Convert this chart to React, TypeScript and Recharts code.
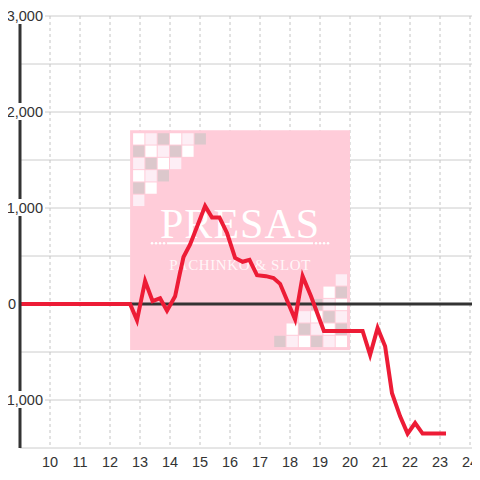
import React from 'react';
import { LineChart, Line, XAxis, YAxis, CartesianGrid, ReferenceArea, ReferenceLine } from 'recharts';

// hour of day vs. running balance
const hours = [
    9, 12.67, 12.9, 13.17, 13.42, 13.67, 13.9, 14.17, 14.33, 14.45, 14.67, 15.17, 15.4, 15.65, 15.9,
    16.17, 16.42, 16.65, 16.9, 17.2, 17.45, 17.67, 17.9, 18.17, 18.42, 18.7, 19.13, 20.42, 20.67,
    20.92, 21.17, 21.4, 21.67, 21.92, 22.17, 22.42, 23.2,
];
const balance = [
    0, 0, -170, 240, 30, 60, -70, 80, 320, 490, 620, 1020, 900, 900, 740,
    480, 440, 460, 300, 290, 270, 210, 40, -160, 290, 80, -280, -280, -530,
    -250, -440, -930, -1170, -1350, -1240, -1350, -1350,
];
const xTicks = [10, 11, 12, 13, 14, 15, 16, 17, 18, 19, 20, 21, 22, 23, 24];
const yTicks = [-1500, -1000, -500, 0, 500, 1000, 1500, 2000, 2500, 3000];

const data = hours.map((h, i) => ({ h: h, v: balance[i] }));

const FONT = '"Liberation Sans", Arial, sans-serif';
const SQ = ['#ffffff', '#fdeef5', '#dcc8cc'];

function Watermark(props) {
    const { x, y, width, height } = props;
    const cell = 12.3;
    const squares = [];
    for (let r = 0; r < 6; r++) {
        for (let c = 0; c < 6 - r; c++) {
            const col = SQ[(((c - r) % 3) + 3) % 3];
            squares.push(
                <rect key={'a' + r + c} x={x + 3 + c * cell} y={y + 3 + r * cell} width={cell - 1} height={cell - 1} fill={col} />
            );
            squares.push(
                <rect key={'b' + r + c} x={x + width - 3 - (c + 1) * cell + 1} y={y + height - 3 - (r + 1) * cell + 1} width={cell - 1} height={cell - 1} fill={col} />
            );
        }
    }
    const cx = x + width / 2;
    const dots = [];
    for (let i = 0; i < 4; i++) {
        dots.push(<circle key={'l' + i} cx={cx - 88 + i * 4} cy={y + 113} r={1.3} fill="#fff" />);
        dots.push(<circle key={'r' + i} cx={cx + 88 - i * 4} cy={y + 113} r={1.3} fill="#fff" />);
    }
    return (
        <g>
            <rect x={x} y={y} width={width} height={height} fill="#ffccd9" />
            {squares}
            <text x={cx} y={y + 108} textAnchor="middle" fill="#fff" fontSize={42} fontFamily='"Liberation Serif", serif' letterSpacing={1}>
                PRESAS
            </text>
            <line x1={cx - 73} x2={cx + 73} y1={y + 113} y2={y + 113} stroke="#fff" strokeWidth={2} />
            {dots}
            <text x={cx} y={y + 140} textAnchor="middle" fill="#fff" fillOpacity={0.85} fontSize={15} fontFamily='"Liberation Serif", serif' letterSpacing={0.6}>
                PACHINKO &amp; SLOT
            </text>
        </g>
    );
}

function YTick(props) {
    const { x, y, payload } = props;
    const v = payload.value;
    if (v % 1000 !== 0) return <g />;
    if (v === 0) {
        return (
            <text x={x - 4} y={y + 5} textAnchor="end" fill="#333" fontSize={14.5} fontFamily={FONT}>0</text>
        );
    }
    return (
        <g>
            <rect x={x - 20} y={y - 9} width={45} height={17} fill="#fff" />
            <text x={x + 23} y={y + 5} textAnchor="end" fill="#333" fontSize={14.5} fontFamily={FONT}>
                {v.toLocaleString('en-US')}
            </text>
        </g>
    );
}

function XTick(props) {
    const { x, y, payload } = props;
    return (
        <text x={x} y={y + 19} textAnchor="middle" fill="#333" fontSize={14.5} fontFamily={FONT}>
            {payload.value}
        </text>
    );
}

export default function App() {
    return (
        <div style={{ margin: -8 }}>
            <LineChart width={480} height={480} data={data} margin={{ top: 16, right: 0, bottom: 0, left: 0 }}>
                <ReferenceArea x1={12.67} x2={20} y1={-480} y2={1810} shape={(p) => <Watermark {...p} />} />
                <CartesianGrid vertical={false} stroke="#cccccc" />
                <CartesianGrid horizontal={false} stroke="#c4c4c4" strokeDasharray="3 3" />
                <XAxis
                    dataKey="h"
                    type="number"
                    domain={[9, 24.333]}
                    ticks={xTicks}
                    allowDataOverflow
                    height={32}
                    axisLine={false}
                    tickLine={false}
                    tickSize={0}
                    tickMargin={0}
                    tick={<XTick />}
                />
                <ReferenceLine y={0} stroke="#333" strokeWidth={3} />
                <Line type="linear" dataKey="v" stroke="#ed1c36" strokeWidth={4} dot={false} isAnimationActive={false} />
                <YAxis
                    domain={[-1500, 3000]}
                    ticks={yTicks}
                    width={20}
                    axisLine={{ stroke: '#333', strokeWidth: 3 }}
                    tickLine={false}
                    tickSize={0}
                    tickMargin={0}
                    tick={<YTick />}
                />
            </LineChart>
        </div>
    );
}
